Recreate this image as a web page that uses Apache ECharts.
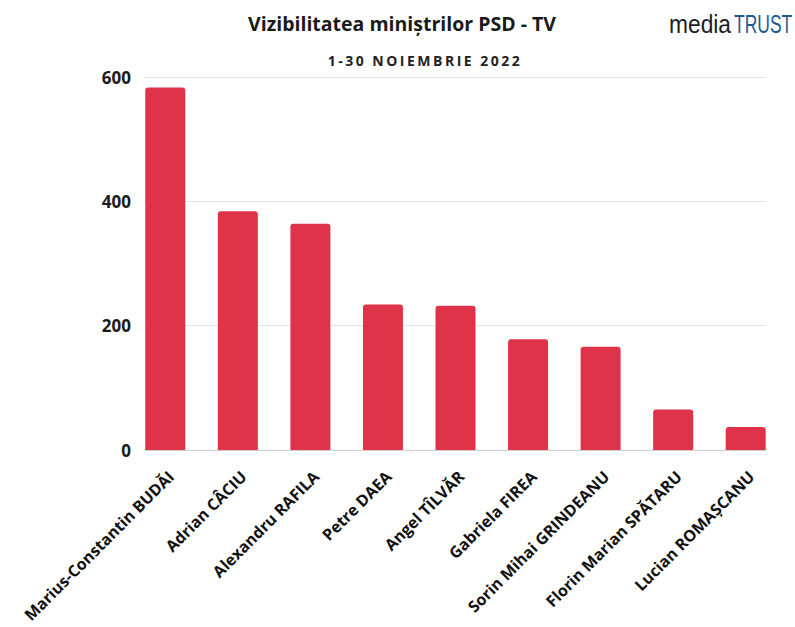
<!DOCTYPE html>
<html>
<head>
<meta charset="utf-8">
<script src="https://cdn.jsdelivr.net/npm/echarts@6/dist/echarts.min.js"></script>
<style>
html,body{margin:0;padding:0;background:#fff;}
#chart{width:795px;height:627px;}
</style>
</head>
<body>
<div id="chart"></div>
<script>
const categories = [
  "Marius-Constantin BUDĂI",
  "Adrian CÂCIU",
  "Alexandru RAFILA",
  "Petre DAEA",
  "Angel TÎLVĂR",
  "Gabriela FIREA",
  "Sorin Mihai GRINDEANU",
  "Florin Marian SPĂTARU",
  "Lucian ROMAȘCANU"
];
const values = [583, 384, 364, 234, 232, 178, 166, 65, 37];
const yTicks = [0, 200, 400, 600];

const titleText = "Vizibilitatea miniștrilor PSD - TV";
const subtitleText = "1-30 NOIEMBRIE 2022";
const logoParts = ["media", "TRUST"];

const chart = echarts.init(document.getElementById('chart'), null, {renderer: 'svg'});
const font = '"Open Sans", "Noto Sans", sans-serif';
const logoFont = '"Liberation Sans", Arial, sans-serif';

chart.setOption({
  animation: false,
  backgroundColor: '#ffffff',
  title: [
    {
      text: titleText,
      left: 397, top: 8, textAlign: 'center',
      textStyle: {fontFamily: font, fontWeight: 'bold', fontSize: 19.5, color: '#1a1a1a'}
    },
    {
      text: subtitleText,
      left: 420, top: 48, textAlign: 'center',
      textStyle: {fontFamily: font, fontWeight: 'bold', fontSize: 14, color: '#222222'}
    }
  ],
  graphic: [
    {
      type: 'text',
      x: 669, y: 23.7, scaleX: 0.86,
      style: {
        text: logoParts[0], verticalAlign: 'middle',
        fontFamily: logoFont, fontSize: 26.5, fill: '#1c1d24'
      }
    },
    {
      type: 'text',
      x: 734, y: 23.7, scaleX: 0.66,
      style: {
        text: logoParts[1], verticalAlign: 'middle',
        fontFamily: logoFont, fontSize: 26.5, fill: '#1e5b93'
      }
    }
  ],
  grid: [
    {left: 129, right: 13, top: 77, bottom: 177, containLabel: false, outerBoundsMode: 'none'},
    {left: 144, right: 29, top: 77, bottom: 177, containLabel: false, outerBoundsMode: 'none'}
  ],
  xAxis: [
    {
      type: 'category', gridIndex: 0, data: categories,
      axisLine: {show: false}, axisTick: {show: false},
      axisLabel: {
        rotate: 45, interval: 0, margin: 18,
        fontFamily: font, fontWeight: 'bold', fontSize: 16, color: '#111111',
        align: 'right', verticalAlign: 'top'
      }
    },
    {
      type: 'category', gridIndex: 1, data: categories,
      axisLine: {show: true, lineStyle: {color: '#cfcfcf', width: 1}},
      axisTick: {show: false}, axisLabel: {show: false}
    }
  ],
  yAxis: [
    {
      type: 'value', gridIndex: 0, min: 0, max: 600, interval: 200,
      show: false, splitLine: {show: false}
    },
    {
      type: 'value', gridIndex: 1, min: 0, max: 600, interval: 200,
      axisLine: {show: false}, axisTick: {show: false},
      splitLine: {show: true, lineStyle: {color: '#e3e3e3', width: 1}},
      axisLabel: {
        margin: 13, fontFamily: font, fontWeight: 'bold', fontSize: 17, color: '#1a1a1a',
        formatter: v => (yTicks.indexOf(v) >= 0 ? String(v) : '')
      }
    }
  ],
  series: [
    {
      type: 'bar', xAxisIndex: 0, yAxisIndex: 0,
      data: values, barWidth: 40,
      itemStyle: {color: '#df3349', borderRadius: [3, 3, 0, 0]}
    }
  ]
});

// widen the subtitle's letter spacing as in the original
function spaceSubtitle() {
  document.querySelectorAll('#chart text').forEach(t => {
    if (t.textContent === subtitleText) {
      t.style.letterSpacing = '2.5px';
    }
  });
}
spaceSubtitle();
chart.on('finished', spaceSubtitle);
</script>
</body>
</html>
